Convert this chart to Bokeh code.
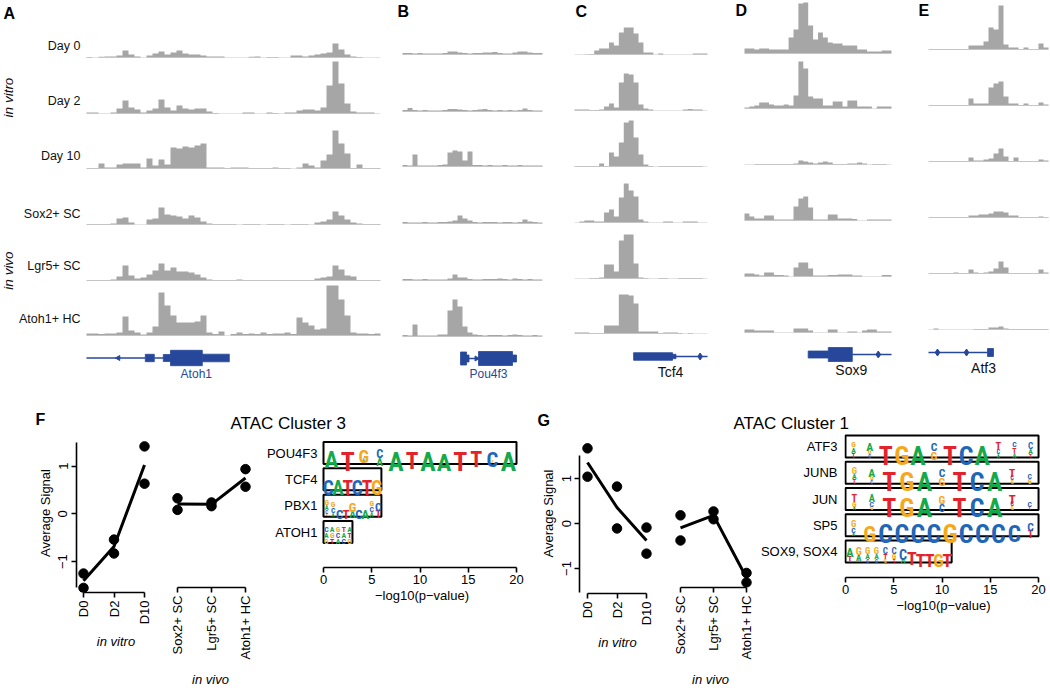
import math
from bokeh.plotting import figure
from bokeh.models import Range1d, FixedTicker, ColumnDataSource
from bokeh.layouts import column, row
from bokeh.embed import file_html
from bokeh.resources import INLINE
from bokeh.core.properties import value

FONT = "Liberation Sans"
LOGO_FONT = "Roboto Condensed, Liberation Sans"
GRAY = "#a6a6a6"
BASE_GRAY = "#e4e4e4"
BLUE = "#27479b"
LETTER_COLORS = {"A": "#16a94b", "C": "#2166b8", "G": "#f6a81c", "T": "#e3232b"}

# ---------------- data: ATAC tracks (signal per genomic bin) ----------------
samples = ["Day 0", "Day 2", "Day 10", "Sox2+ SC", "Lgr5+ SC", "Atoh1+ HC"]

atoh1_day0 = [0.5,0,0.7,1,1,2,7,3,1,0,2,4,6,3,5,7,4,3,3,2,1,1,1,0,0,0,0,0.7,1,0,0.5,0.5,0,0,2,2,1,2,3,4,5,14,8,3,1,0.5,0,0,0]
atoh1_day2 = [1,1,0,0,1,5,13,6,4,1,3,5,14,6,3,8,5,4,5,5,2,0.5,0,0,0,0,1,1,0,0,1,0.5,0,1,1,3,4,4,3,6,28,52,30,10,2,1,1,1,0]
atoh1_day10 = [0.5,0.5,5,1,1,4,5,5,5,1,10,3,9,4,21,20,22,21,23,25,1,1,1,0.5,1,1,1,0.5,0.5,0.5,0.5,1,0.5,0.5,0,1,5,3,1,8,14,38,25,15,0.5,4,0.5,0.5,0.5]
atoh1_sox2 = [0.5,0.5,0.5,0.5,1,6,7,2,0,0,5,6,17,10,9,8,6,9,7,3,1,0.5,0.5,0.5,0.5,0,0.5,0.5,0.5,0,0.5,0.5,0.5,0,0.5,0.5,0.5,0,2,3,5,13,9,5,2,1,0.5,0.5,0.5]
atoh1_lgr5 = [0.5,0.5,0.5,0.5,1,4,15,5,2,3,6,10,17,10,13,9,9,8,6,3,1,0.5,0.5,0.5,0.5,1,0.5,0.5,0.5,0.5,0.5,0.5,0.5,0.5,0.5,0.5,0.5,0.5,2,3,4,15,11,5,4,0.5,0.5,0.5,0.5]
atoh1_atoh1 = [2,2,1.5,2,2,3,19,5,3,1,3,9,43,30,20,13,13,13,14,20,3,1.5,4,0,1.5,3,1.5,2,1.5,3,1.5,2,2,3,1.5,18,13,10,6,7,50,50,36,20,3,2,2,1.5,2]

pou4f3_day0 = [1.5,1.5,1,1.5,1,1,1,1,1.5,3,3,2,1.5,1,1.5,1.5,2,2,2.5,1.5,1,1,2,3,3,2,1.5,1.5]
pou4f3_day2 = [1.5,3.5,1.5,1,1.5,1,1,1,1.5,2.5,2.5,2,1.5,1,1.5,2,2.5,1.5,1,1.5,1,1.5,1,1.5,3,1.5,1,1]
pou4f3_day10 = [1.5,1,12,1,1,1,1,1.5,2,14,16,15,6,15,1.5,1.5,1,1.5,1,1,1.5,1,1,1.5,1,1,1,1]
pou4f3_sox2 = [1.5,1,1,1,1.5,1,1,1.5,1.5,2,3,8,5,3,1.5,1,1.5,1.5,1.5,1,1.5,1.5,1,1.5,4,2,1.5,1]
pou4f3_lgr5 = [1.5,1.5,1,1,1.5,1,1,1,1,2,6,3,3,1.5,1,1,1.5,1.5,1.5,2,1.5,1,2,1.5,1,1.5,1,1]
pou4f3_atoh1 = [1.5,1,12,1,1,1,1,2,2,26,37,30,10,4,2,1.5,1,1.5,1.5,1.5,1,1.5,2,1.5,1,1,1.5,1]

tcf4_day0 = [0,0,0.3,0.5,4,6,6,12,9,22,27,27,21,12,2,2,0,1,0,0,0,0,0,0,1,1,1]
tcf4_day2 = [1,1,1,0.5,0.5,1,4,7,3,28,37,36,28,6,2,1,0,0,0,0,0,0,1,1.5,1,1,0]
tcf4_day10 = [0.5,0.5,0.5,0.5,0.5,3,0.5,14,10,24,44,46,29,12,2,0.5,0,0.5,0.5,0.5,0.5,0.5,0.5,0.5,0.5,0.5,0]
tcf4_sox2 = [0,1,2,2,1,1,10,13,6,25,39,32,26,3,1,0,0,0,1,1,0,0,1,1,1,0,0]
tcf4_lgr5 = [0,0,0,0.5,0.5,1,14,14,7,38,44,44,15,1,0.5,0,0,0.5,0.5,0,0,0.5,0.5,0.5,0.5,0.5,0]
tcf4_atoh1 = [1,1,1,0.5,0.5,0.5,8,8,8,39,39,38,30,2,2,2,2,0.5,1,1,1,0.5,0,0.5,0,0,0]

sox9_day0 = [5,5,4,5,5,4,4,4,4,16,24,50,51,28,14,21,16,11,10,10,8,8,8,4,4,2,2,2,3,3]
sox9_day2 = [1,2,3,6,6,4,3,3,4,3,13,47,40,12,10,10,3,3,7,7,2,8,8,2,2,2,0,2,2,2]
sox9_day10 = [0,0,0.5,0.5,0.5,0.5,0.5,0.5,0.5,0.5,1,4,3,2,1,2,3,2,0.5,0.5,0.5,1,1,2,1,0,0.5,0.5,0.5,0]
sox9_sox2 = [7,4,2,2,5,5,1,1,1,1,14,22,24,13,1,1,1,6,6,2,2,2,1.5,0,0,1,1,1,1,1]
sox9_lgr5 = [3,3,2,1,4,4,1.5,1.5,1,0,9,14,14,8,1,1,1,1.5,1.5,2,2,2,1,1,0,0,0,0,1.5,1.5]
sox9_atoh1 = [3,3,2,2,2,2,0,0,0,0,4,4,4,2,0,0,0,3,3,0,0,1,1,0,2,3,3,1,1,1]

atf3_day0 = [0.5,0.5,0.5,0.5,0.5,0.5,0.5,0.5,4,4,4,8,22,20,44,5,2,2,0.5,2,0.5,0.5,6,2]
atf3_day2 = [0.5,0.5,0.5,0.5,0.5,0.5,0.5,0.5,7,2,2,2,18,22,24,9,2,2,0.5,2,0.5,0.5,3,1]
atf3_day10 = [0.5,0.5,0.5,0.5,0.5,0.5,0.5,0.5,4,1,1,2,3,8,13,5,0.5,4,0.5,0.5,0.5,0.5,2,1]
atf3_sox2 = [0.5,0.5,0.5,0.5,0.5,0.5,0.5,0.5,2,2,3,3,4,6,6,5,2,2,0.5,0.5,0.5,0.5,1,0.5]
atf3_lgr5 = [0.5,0.5,0.5,0.5,0.5,1,0.5,0.5,4,1,0.5,1,2,5,12,6,0.5,0.5,0.5,0.5,0.5,0.5,4,1]
atf3_atoh1 = [0,1,0,0,0,0,0,0,0,0.5,0.5,0.5,2,2,3,1,0.5,0.5,0.5,0.5,0.5,0.5,0.5,0.5]

loci = ["Atoh1", "Pou4f3", "Tcf4", "Sox9", "Atf3"]
locus_tracks = {
    "Atoh1": [atoh1_day0, atoh1_day2, atoh1_day10, atoh1_sox2, atoh1_lgr5, atoh1_atoh1],
    "Pou4f3": [pou4f3_day0, pou4f3_day2, pou4f3_day10, pou4f3_sox2, pou4f3_lgr5, pou4f3_atoh1],
    "Tcf4": [tcf4_day0, tcf4_day2, tcf4_day10, tcf4_sox2, tcf4_lgr5, tcf4_atoh1],
    "Sox9": [sox9_day0, sox9_day2, sox9_day10, sox9_sox2, sox9_lgr5, sox9_atoh1],
    "Atf3": [atf3_day0, atf3_day2, atf3_day10, atf3_sox2, atf3_lgr5, atf3_atoh1],
}

# gene models, in bin coordinates of each locus
gene_introns = {"Atoh1": [(0, 9.8), (11.3, 12.8)], "Pou4f3": [(13, 15.2)], "Tcf4": [(20.5, 27)],
                "Sox9": [(22, 30)], "Atf3": [(0, 11.8)]}
gene_exons = {  # (start, end, half-thickness)
    "Atoh1": [(9.8, 11.3, 3.7), (12.8, 14, 3.5), (14, 19.3, 7.7), (19.3, 23.8, 3.8)],
    "Pou4f3": [(11.6, 12.8, 6.5), (12.8, 13.3, 3.5), (15.2, 22, 7), (22, 22.8, 3.5)],
    "Tcf4": [(12, 19.9, 3.8), (19.9, 20.6, 2.2)],
    "Sox9": [(13, 17.1, 3.5), (17.1, 22, 7)],
    "Atf3": [(11.8, 13, 4)],
}
gene_marks = {"Atoh1": [(5.3, "left")], "Pou4f3": [(14.8, "right")], "Tcf4": [(25.5, "dot")],
              "Sox9": [(27.3, "dot")], "Atf3": [(1.8, "dot"), (7.6, "dot")]}
gene_label_x = {"Atoh1": 18.3, "Pou4f3": 17.2, "Tcf4": 19.5, "Sox9": 21.8, "Atf3": 11}

# ---------------- data: cluster signal and motif enrichment ----------------
vitro_groups = ["D0", "D2", "D10"]
vivo_groups = ["Sox2+ SC", "Lgr5+ SC", "Atoh1+ HC"]
c3_vitro = [[-1.25, -1.55], [-0.54, -0.83], [1.41, 0.63]]
c3_vivo = [[0.28, 0.03], [0.19, 0.11], [0.91, 0.53]]
c1_vitro = [[1.67, 1.04], [0.82, -0.11], [-0.09, -0.67]]
c1_vivo = [[0.11, -0.47], [0.20, 0.02], [-1.22, -1.44]]

c3_motifs = ["POU4F3", "TCF4", "PBX1", "ATOH1"]
c3_logp = [20, 6, 6, 3]
c1_motifs = ["ATF3", "JUNB", "JUN", "SP5", "SOX9, SOX4"]
c1_logp = [20, 20, 20, 20, 11]

logo_pou4f3 = [[("A", .9), ("T", .08)], [("T", 1)], [("G", .7), ("A", .15), ("T", .1)], [("C", .48), ("A", .45)],
               [("A", 1)], [("T", .9), ("C", .06)], [("A", 1)], [("A", .95)], [("T", 1)], [("T", .85), ("G", .1)],
               [("C", .8), ("G", .12)], [("A", 1)]]
logo_tcf4 = [[("C", 1)], [("A", 1)], [("T", 1)], [("C", 1)], [("T", 1)], [("G", 1)]]
logo_pbx1 = [[("G", .3), ("A", .25), ("C", .2), ("T", .15)], [("G", .3), ("C", .3), ("A", .2)], [("C", .9)], [("T", .95)],
             [("G", .55), ("A", .4)], [("C", .9)], [("A", .9)], [("G", .3), ("C", .3), ("A", .25)], [("C", .45), ("T", .4)]]
logo_atoh1 = [[("C", .3), ("A", .3), ("G", .3)], [("A", .3), ("G", .3), ("T", .3)], [("G", .3), ("C", .3), ("A", .3)],
              [("T", .3), ("A", .3), ("C", .3)], [("A", .3), ("T", .3), ("G", .3)]]
logo_atf3 = [[("G", .3), ("A", .3), ("T", .25)], [("A", .45), ("G", .25), ("C", .2)], [("T", 1)], [("G", 1)], [("A", 1)],
             [("C", .45), ("G", .45)], [("T", 1)], [("C", 1)], [("A", 1)], [("T", .4), ("C", .25), ("A", .2)],
             [("C", .3), ("T", .3), ("A", .25)], [("C", .35), ("A", .3), ("T", .2)]]
logo_junb = [[("G", .35), ("A", .3), ("T", .25)], [("A", .45), ("G", .25), ("C", .2)], [("T", 1)], [("G", 1)], [("A", 1)],
             [("C", .45), ("G", .45)], [("T", 1)], [("C", 1)], [("A", 1)], [("T", .45), ("C", .25), ("G", .2)],
             [("C", .3), ("G", .25)]]
logo_jun = [[("T", .4), ("G", .3), ("A", .2)], [("A", .4), ("C", .3), ("G", .2)], [("T", 1)], [("G", 1)], [("A", 1)],
            [("G", .45), ("C", .4)], [("T", 1)], [("C", 1)], [("A", 1)], [("T", .5), ("C", .25), ("G", .2)],
            [("C", .3), ("T", .2)]]
logo_sp5 = [[("G", .35), ("C", .3), ("A", .2)], [("G", .85)], [("C", 1)], [("C", 1)], [("C", 1)], [("C", 1)], [("G", 1)],
            [("C", 1)], [("C", 1)], [("C", 1)], [("C", .9)], [("C", .45), ("T", .4)]]
logo_sox = [[("A", .5), ("T", .3), ("C", .1)], [("G", .4), ("A", .35), ("C", .1)], [("G", .35), ("A", .3), ("C", .2)],
            [("G", .35), ("A", .3), ("C", .2)], [("C", .35), ("T", .3), ("G", .2)], [("C", .35), ("G", .3), ("T", .2)],
            [("C", .55), ("A", .3)], [("T", .8), ("A", .1)], [("T", .9)], [("T", .9)], [("G", .9)], [("T", .9)]]
c3_logos = [logo_pou4f3, logo_tcf4, logo_pbx1, logo_atoh1]
c1_logos = [logo_atf3, logo_junb, logo_jun, logo_sp5, logo_sox]

# ---------------- layout constants (page pixels of the reference) ----------------
TRACK_X = {"Atoh1": (86, 380), "Pou4f3": (402, 542), "Tcf4": (574, 707), "Sox9": (744, 891), "Atf3": (928, 1048)}
TRACK_BINS = {"Atoh1": 49, "Pou4f3": 28, "Tcf4": 27, "Sox9": 30, "Atf3": 24}
TRACK_BASE = {"Atoh1": [57, 113, 168, 224, 280, 335], "Pou4f3": [54, 111, 166, 223, 280, 336],
              "Tcf4": [54, 110, 166, 222, 278, 333], "Sox9": [53, 108, 164, 220, 276, 332],
              "Atf3": [49, 105, 161, 217, 273, 329]}
GENE_Y = {"Atoh1": 357.5, "Pou4f3": 358, "Tcf4": 356, "Sox9": 354, "Atf3": 352}
TRACK_SCALE = 50.0


def canvas(width, height, x0, x1, y_top, y_bottom):
    p = figure(width=width, height=height, x_range=Range1d(x0, x1), y_range=Range1d(y_bottom, y_top),
               x_axis_type=None, y_axis_type=None, toolbar_location=None, output_backend="svg",
               min_border_left=0, min_border_right=0, min_border_top=0, min_border_bottom=0)
    p.outline_line_color = None
    p.background_fill_color = "white"
    p.border_fill_color = "white"
    return p


# ---------------- top: tracks ----------------
top = canvas(1050, 400, 0, 1050, 0, 400)

for locus in loci:
    x0, x1 = TRACK_X[locus]
    nb = TRACK_BINS[locus]
    for r, vals in enumerate(locus_tracks[locus]):
        base = TRACK_BASE[locus][r]
        sub = top.subplot(x_source=Range1d(0, nb), y_source=Range1d(0, TRACK_SCALE),
                          x_target=Range1d(x0, x1), y_target=Range1d(base, base - TRACK_SCALE))
        sub.segment(x0=[0], y0=[0], x1=[nb], y1=[0], line_color=BASE_GRAY, line_width=1)
        xs = list(range(len(vals))) + [len(vals)]
        ys = list(vals) + [vals[-1]]
        sub.varea_step(x=xs, y1=[0] * len(xs), y2=ys, step_mode="after", fill_color=GRAY)
    gy = GENE_Y[locus]
    g = top.subplot(x_source=Range1d(0, nb), y_source=Range1d(-10, 10),
                    x_target=Range1d(x0, x1), y_target=Range1d(gy + 10, gy - 10))
    introns = gene_introns[locus]
    g.segment(x0=[a for a, b in introns], y0=[0] * len(introns), x1=[b for a, b in introns],
              y1=[0] * len(introns), line_color=BLUE, line_width=1.5)
    ex = gene_exons[locus]
    g.quad(left=[e[0] for e in ex], right=[e[1] for e in ex], bottom=[-e[2] for e in ex],
           top=[e[2] for e in ex], fill_color=BLUE, line_color=BLUE, line_width=0.8)
    for mx, kind in gene_marks[locus]:
        if kind == "dot":
            g.scatter(x=[mx], y=[0], marker="diamond", size=7, fill_color=BLUE, line_color=BLUE)
        else:
            ang = math.pi / 2 if kind == "left" else -math.pi / 2
            g.scatter(x=[mx], y=[0], marker="triangle", size=5, angle=ang, fill_color=BLUE, line_color=BLUE)
    blue_label = locus in ("Atoh1", "Pou4f3")
    g.text(x=[gene_label_x[locus]], y=[-15.5], text=[locus], text_align="center", text_baseline="middle",
           text_font=value(FONT), text_font_size="12px" if blue_label else "14px",
           text_color=BLUE if blue_label else "#111111")

top.text(x=[80] * 6, y=[45, 100, 155, 213, 265, 318], text=samples, text_align="right", text_baseline="middle",
         text_font=value(FONT), text_font_size="12.5px", text_color="#111111")
top.text(x=[8, 8], y=[97, 270], text=["in vitro", "in vivo"], angle=math.pi / 2, text_align="center",
         text_baseline="middle", text_font=value(FONT), text_font_size="13.5px", text_font_style="italic",
         text_color="#111111")
top.text(x=[3, 397, 575, 735, 918], y=[13, 11, 11, 10, 10], text=["A", "B", "C", "D", "E"], text_align="left",
         text_baseline="middle", text_font=value(FONT), text_font_size="16px", text_font_style="bold",
         text_color="black")

header = canvas(1050, 33, 0, 1050, 400, 433)
header.text(x=[35, 537], y=[419, 420], text=["F", "G"], text_align="left", text_baseline="middle",
            text_font=value(FONT), text_font_size="16px", text_font_style="bold", text_color="black")
header.text(x=[230, 733], y=[423, 423], text=["ATAC Cluster 3", "ATAC Cluster 1"], text_align="left",
            text_baseline="middle", text_font=value(FONT), text_font_size="17px", text_color="black")


def lin_range(lo_px, hi_px, px_a, v_a, px_b, v_b):
    s = (v_b - v_a) / (px_b - px_a)
    return Range1d(v_a + (lo_px - px_a) * s, v_a + (hi_px - px_a) * s)


def style_axis(ax):
    ax.axis_line_width = 1.6
    ax.axis_line_color = "black"
    ax.major_tick_line_width = 1.6
    ax.major_tick_line_color = "black"
    ax.major_tick_out = 5
    ax.major_tick_in = 0
    ax.minor_tick_out = 0
    ax.minor_tick_in = 0
    ax.major_label_text_font = FONT
    ax.major_label_text_font_size = "13px"
    ax.major_label_text_color = "black"
    ax.axis_label_text_font = FONT
    ax.axis_label_text_font_size = "13px"
    ax.axis_label_text_color = "black"
    ax.axis_label_text_font_style = "normal"


BOTTOM_H = 257
BOTTOM_TOP = 433
BOTTOM_END = 690


def base_fig(width, ml, mr, frame_bottom, xr, yr, with_y):
    p = figure(width=width, height=BOTTOM_H, x_range=xr, y_range=yr, toolbar_location=None,
               output_backend="svg", min_border_left=ml, min_border_right=mr, min_border_top=0,
               min_border_bottom=BOTTOM_END - frame_bottom, y_axis_location="left" if with_y else None)
    p.frame_align = False
    p.outline_line_color = None
    p.xgrid.visible = False
    p.ygrid.visible = False
    return p


def signal_panel(fig_left, width, ml, mr, frame_bottom, groups, reps, x_anchor, y_anchor, y_bounds, group_label,
                 tick_standoff, label_standoff):
    fl, fr = fig_left + ml, fig_left + width - mr
    xr = lin_range(fl, fr, x_anchor[0], 0, x_anchor[1], 2)
    yr = lin_range(frame_bottom, BOTTOM_TOP, y_anchor[0], 0, y_anchor[1], 1)
    p = base_fig(width, ml, mr, frame_bottom, xr, yr, bool(y_bounds))
    xs, ys = [], []
    for i, vals in enumerate(reps):
        for v in vals:
            xs.append(i)
            ys.append(v)
    means = [sum(v) / len(v) for v in reps]
    p.line(x=list(range(len(reps))), y=means, line_width=3, line_color="black")
    p.scatter(x=xs, y=ys, size=9.5, fill_color="black", line_color="black")
    ax = p.xaxis[0]
    style_axis(ax)
    ax.ticker = FixedTicker(ticks=list(range(len(groups))), minor_ticks=[])
    ax.major_label_overrides = {i: g for i, g in enumerate(groups)}
    ax.major_label_orientation = math.pi / 2
    ax.major_label_standoff = tick_standoff
    ax.bounds = (0, len(groups) - 1)
    ax.axis_label = group_label
    ax.axis_label_text_font_style = "italic"
    ax.axis_label_standoff = label_standoff
    if y_bounds:
        yax = p.yaxis[0]
        style_axis(yax)
        yax.ticker = FixedTicker(ticks=[-1, 0, 1], minor_ticks=[])
        yax.major_label_overrides = {-1: "\u22121", 0: "0", 1: "1"}
        yax.major_label_orientation = "vertical"
        yax.major_label_standoff = 4
        yax.bounds = y_bounds
        yax.axis_label = "Average Signal"
        yax.axis_label_standoff = 3
    return p


def motif_panel(fig_left, width, ml, mr, frame_bottom, names, logp, logos, x_anchor, y_anchor, label_standoff):
    fl, fr = fig_left + ml, fig_left + width - mr
    xr = lin_range(fl, fr, x_anchor[0], 0, x_anchor[1], 20)
    n = len(names)
    yr = lin_range(frame_bottom, BOTTOM_TOP, y_anchor[0], 0, y_anchor[1], n - 1)
    px_x = (x_anchor[1] - x_anchor[0]) / 20.0
    px_y = (y_anchor[1] - y_anchor[0]) / (n - 1.0)
    p = base_fig(width, ml, mr, frame_bottom, xr, yr, True)
    half_px = 11.0
    half = half_px / px_y
    ks = list(range(n))
    p.quad(left=[0] * n, right=logp, top=[k - half for k in ks], bottom=[k + half for k in ks],
           fill_color="white", line_color="black", line_width=2)
    lx, ly, lt, lc, lf = [], [], [], [], []
    inner = 2 * half_px - 3.5
    for k, (v, cols) in enumerate(zip(logp, logos)):
        cell = v / len(cols)
        cell_px = cell * px_x
        for j, col in enumerate(cols):
            cum = 1.8
            for letter, frac in reversed(col):
                fs = min(frac * inner / 0.716, cell_px / 0.5)
                lx.append((j + 0.5) * cell)
                ly.append(k + (half_px - cum) / px_y)
                lt.append(letter)
                lc.append(LETTER_COLORS[letter])
                lf.append("%.1fpx" % fs)
                cum += fs * 0.716 + 0.4
    src = ColumnDataSource(dict(x=lx, y=ly, t=lt, c=lc, fs=lf))
    p.text(x="x", y="y", text="t", text_color="c", text_font_size="fs", source=src, text_font=value(LOGO_FONT),
           text_align="center", text_baseline="alphabetic", text_font_style="bold")
    ax = p.xaxis[0]
    style_axis(ax)
    ax.ticker = FixedTicker(ticks=[0, 5, 10, 15, 20], minor_ticks=[])
    ax.bounds = (0, 20)
    ax.major_label_standoff = 2
    ax.axis_label = "\u2212log10(p\u2212value)"
    ax.axis_label_standoff = 1
    yax = p.yaxis[0]
    style_axis(yax)
    yax.ticker = FixedTicker(ticks=ks, minor_ticks=[])
    yax.major_label_overrides = {k: nm for k, nm in enumerate(names)}
    yax.axis_line_color = None
    yax.major_tick_line_color = None
    yax.major_tick_out = 0
    yax.major_label_standoff = label_standoff
    return p


f1 = signal_panel(0, 160, 76, 5, 592, vitro_groups, c3_vitro, (83, 144), (513.3, 465.5), (-1.54, 1.49),
                  "in vitro", 3, 7)
f2 = signal_panel(160, 102, 5, 7, 592, vivo_groups, c3_vivo, (177, 245), (513.3, 465.5), None, "in vivo", 3, 10)
fm = motif_panel(262, 268, 59, 8, 567, c3_motifs, c3_logp, c3_logos, (323, 516), (452.5, 531.5), 4)
g1 = signal_panel(530, 133, 49, 8, 593, vitro_groups, c1_vitro, (587, 646), (523, 478), (-1.53, 1.51),
                  "in vitro", 3, 7)
g2 = signal_panel(663, 94, 5, 5, 593, vivo_groups, c1_vivo, (680, 746), (523, 478), None, "in vivo", 3, 10)
gm = motif_panel(757, 293, 85, 8, 577, c1_motifs, c1_logp, c1_logos, (843, 1038), (446, 551), 7)

layout = column(top, header, row(f1, f2, fm, g1, g2, gm))
open("out.html", "w").write(file_html(layout, INLINE))
